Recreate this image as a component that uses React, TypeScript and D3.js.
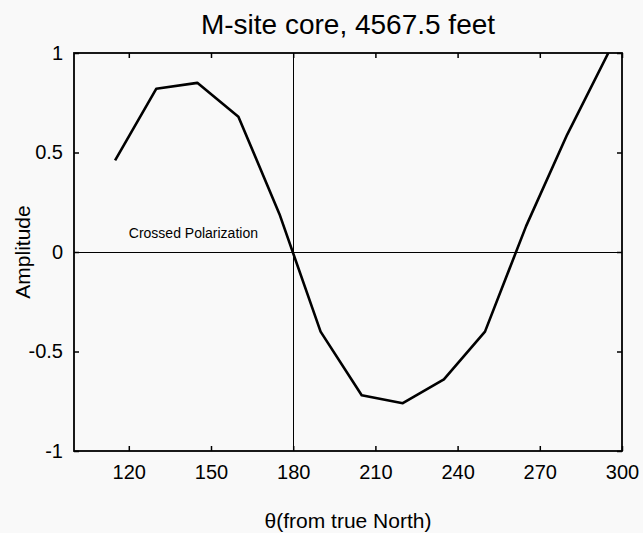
import { useEffect, useRef } from 'react'
import * as d3 from 'd3'

const angles = [115, 130, 145, 160, 175, 190, 205, 220, 235, 250, 265, 280, 295]
const amplitude = [0.46, 0.82, 0.85, 0.68, 0.19, -0.4, -0.72, -0.76, -0.64, -0.4, 0.13, 0.59, 1.0]
const xTicks = [120, 150, 180, 210, 240, 270, 300]
const yTicks = [-1, -0.5, 0, 0.5, 1]

const font = '"Liberation Sans", Arial, Helvetica, sans-serif'

export default function App() {
  const svgRef = useRef<SVGSVGElement>(null)

  useEffect(() => {
    if (!svgRef.current) return
    const width = 643
    const height = 533
    const margin = { top: 53, right: 21, bottom: 82, left: 74 }
    const innerWidth = width - margin.left - margin.right
    const innerHeight = height - margin.top - margin.bottom

    const x = d3.scaleLinear().domain([100, 300]).range([0, innerWidth])
    const y = d3.scaleLinear().domain([-1, 1]).range([innerHeight, 0])

    const svg = d3.select(svgRef.current)
    svg.selectAll('*').remove()
    svg.attr('width', width).attr('height', height)

    svg.append('rect').attr('width', width).attr('height', height).attr('fill', '#f9f9f9')

    const g = svg.append('g').attr('transform', `translate(${margin.left},${margin.top})`)

    // MATLAB style ticks pointing inward on all four sides
    const styleAxis = (sel: d3.Selection<SVGGElement, unknown, null, undefined>) => {
      sel.select('.domain').remove()
      sel.selectAll('line').attr('stroke', '#000').attr('stroke-width', 1.5)
      sel.selectAll('text').attr('fill', '#000').style('font-family', font).style('font-size', '20px')
    }

    g.append('g')
      .attr('transform', `translate(0,${innerHeight})`)
      .call(d3.axisBottom(x).tickValues(xTicks).tickSize(-5).tickPadding(14).tickFormat(d => String(d)))
      .call(styleAxis)
      .selectAll('text').attr('dy', '0.71em')

    g.append('g')
      .call(d3.axisTop(x).tickValues(xTicks).tickSize(-5).tickFormat(() => ''))
      .call(styleAxis)

    g.append('g')
      .call(d3.axisLeft(y).tickValues(yTicks).tickSize(-5).tickPadding(11).tickFormat(d => String(d)))
      .call(styleAxis)

    g.append('g')
      .attr('transform', `translate(${innerWidth},0)`)
      .call(d3.axisRight(y).tickValues(yTicks).tickSize(-5).tickFormat(() => ''))
      .call(styleAxis)

    // zero reference lines
    g.append('line')
      .attr('x1', 0).attr('x2', innerWidth)
      .attr('y1', y(0) + 0.5).attr('y2', y(0) + 0.5)
      .attr('stroke', '#000').attr('stroke-width', 1)
    g.append('line')
      .attr('x1', Math.round(x(180)) + 0.5).attr('x2', Math.round(x(180)) + 0.5)
      .attr('y1', 0).attr('y2', innerHeight)
      .attr('stroke', '#000').attr('stroke-width', 1)

    g.append('text')
      .attr('x', x(120)).attr('y', y(0.07))
      .style('font-family', font).style('font-size', '14px')
      .text('Crossed Polarization')

    svg.append('clipPath').attr('id', 'plot-clip')
      .append('rect').attr('width', innerWidth).attr('height', innerHeight)

    const line = d3.line<number>().x((_, i) => x(angles[i])).y(d => y(d))
    g.append('path')
      .attr('clip-path', 'url(#plot-clip)')
      .attr('d', line(amplitude))
      .attr('fill', 'none')
      .attr('stroke', '#000')
      .attr('stroke-width', 2.6)
      .attr('stroke-linejoin', 'round')

    g.append('rect')
      .attr('width', innerWidth).attr('height', innerHeight)
      .attr('fill', 'none').attr('stroke', '#000').attr('stroke-width', 1.8)

    svg.append('text')
      .attr('x', margin.left + innerWidth / 2).attr('y', 34)
      .attr('text-anchor', 'middle')
      .style('font-family', font).style('font-size', '28px')
      .text('M-site core, 4567.5 feet')

    svg.append('text')
      .attr('x', margin.left + innerWidth / 2).attr('y', 528)
      .attr('text-anchor', 'middle')
      .style('font-family', font).style('font-size', '21px')
      .text('θ(from true North)')

    svg.append('text')
      .attr('transform', `translate(30,${margin.top + innerHeight / 2}) rotate(-90)`)
      .attr('text-anchor', 'middle')
      .style('font-family', font).style('font-size', '21px')
      .text('Amplitude')
  }, [])

  return <svg ref={svgRef} style={{ position: 'absolute', left: 0, top: 0, display: 'block' }} />
}
